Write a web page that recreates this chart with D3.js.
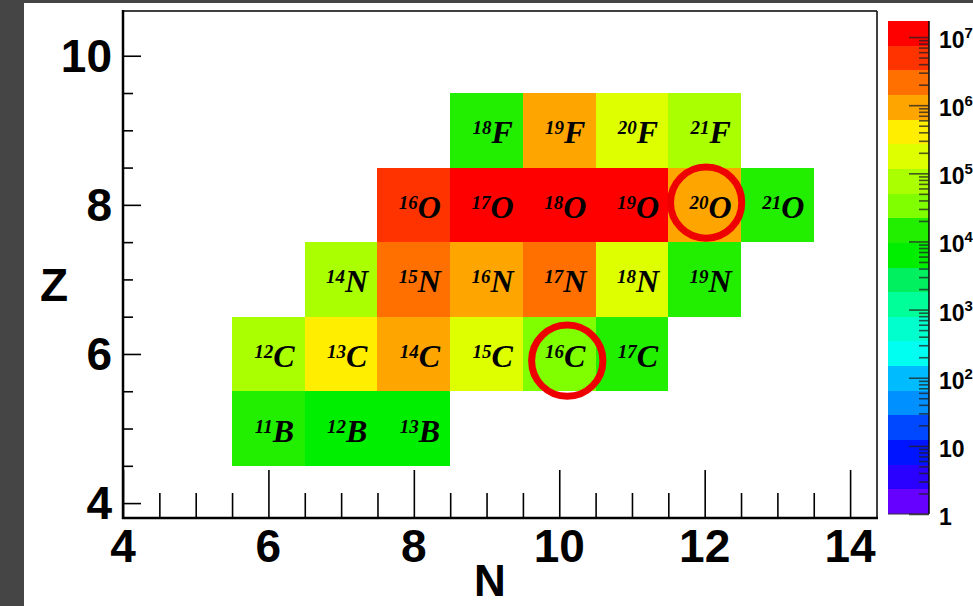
<!DOCTYPE html>
<html>
<head>
<meta charset="utf-8">
<script src="https://cdn.jsdelivr.net/npm/d3@7"></script>
<style>
  html, body { margin: 0; padding: 0; background: #454545; }
  svg { display: block; }
</style>
</head>
<body>
<svg id="chart" width="973" height="606"></svg>
<script>
// ---------------- data ----------------
const elements = ["B", "C", "N", "O", "F"];
const elementZ = [5, 6, 7, 8, 9];
// isotopes: mass number, neutron number N, proton number Z, yield value
const isoMass  = [11, 12, 13,   12, 13, 14, 15, 16, 17,   14, 15, 16, 17, 18, 19,   16, 17, 18, 19, 20, 21,   18, 19, 20, 21];
const isoElem  = ["B","B","B",  "C","C","C","C","C","C",  "N","N","N","N","N","N",  "O","O","O","O","O","O",  "F","F","F","F"];
const isoN     = [6, 7, 8,      6, 7, 8, 9, 10, 11,       7, 8, 9, 10, 11, 12,      8, 9, 10, 11, 12, 13,     9, 10, 11, 12];
const isoZ     = [5, 5, 5,      6, 6, 6, 6, 6, 6,         7, 7, 7, 7, 7, 7,         8, 8, 8, 8, 8, 8,         9, 9, 9, 9];
const isoValue = [1.2e4, 7e3, 6e3,
                  7e4, 4e5, 8e5, 1.7e5, 4.5e4, 1.3e4,
                  7e4, 2.5e6, 1.1e6, 2.2e6, 2e5, 1.5e4,
                  5e6, 1.2e7, 1.4e7, 1.0e7, 1e6, 1.4e4,
                  1.5e4, 9e5, 1.8e5, 8e4];
// highlighted isotopes (20O and 16C)
const highlightN = [12.02, 10.11];
const highlightZ = [8.03, 5.91];

const xTicks = [4, 6, 8, 10, 12, 14];
const yTicks = [4, 6, 8, 10];
const cbExponents = [0, 1, 2, 3, 4, 5, 6, 7];
const cbLabels = ["1", "10", "10", "10", "10", "10", "10", "10"];
const cbSup    = ["", "", "2", "3", "4", "5", "6", "7"];
const paletteColors = ["#6600ff","#2a00ff","#0014ff","#0048ff","#0090ff","#00bcff","#00fff0","#00ffcc","#00ff99","#00f060",
                       "#00ee00","#22ee00","#80ff00","#aaff00","#ddff00","#ffee00","#ffa500","#ff7000","#ff3300","#ff0000"];
const zMin = 1, zMax = 1.72e7;

// ---------------- drawing ----------------
const svg = d3.select("#chart");
svg.append("rect").attr("x", 24).attr("y", 3).attr("width", 949).attr("height", 603).attr("fill", "#ffffff");

const x = d3.scaleLinear().domain([4, 14.37]).range([123, 877]);
const y = d3.scaleLinear().domain([3.8, 10.6]).range([518, 11]);

const logMax = Math.log10(zMax);
const nb = paletteColors.length;
const thresholds = d3.range(1, nb).map(k => Math.pow(10, k * logMax / nb));
const color = d3.scaleThreshold().domain(thresholds).range(paletteColors);

const cells = isoMass.map((m, i) => ({m, el: isoElem[i], N: isoN[i], Z: isoZ[i], v: isoValue[i]}));

// cells
svg.append("g").selectAll("rect").data(cells).join("rect")
  .attr("x", d => x(d.N - 0.5))
  .attr("y", d => y(d.Z + 0.5))
  .attr("width", d => x(d.N + 0.5) - x(d.N - 0.5))
  .attr("height", d => y(d.Z - 0.5) - y(d.Z + 0.5))
  .attr("fill", d => color(d.v))
  .attr("shape-rendering", "crispEdges");

// labels
const lab = svg.append("g").selectAll("text").data(cells).join("text")
  .attr("x", d => x(d.N) + 6)
  .attr("y", d => y(d.Z) + 13)
  .attr("text-anchor", "middle")
  .attr("font-family", "'Liberation Serif', 'DejaVu Serif', serif")
  .attr("font-weight", "bold")
  .attr("font-style", "italic")
  .attr("fill", "#000");
lab.append("tspan").attr("font-size", 19).attr("dy", -9).text(d => d.m);
lab.append("tspan").attr("font-size", 32).attr("dy", 9).text(d => d.el);

// highlight circles
svg.append("g").selectAll("circle").data(highlightN.map((n, i) => ({N: n, Z: highlightZ[i]}))).join("circle")
  .attr("cx", d => x(d.N))
  .attr("cy", d => y(d.Z))
  .attr("r", (x(1) - x(0)) * 0.49)
  .attr("fill", "none")
  .attr("stroke", "#ee0000")
  .attr("stroke-width", 7);

// frame
const fr = svg.append("g");
fr.append("line").attr("x1", 123).attr("x2", 877).attr("y1", 11).attr("y2", 11).attr("stroke", "#000").attr("stroke-width", 1.5);
fr.append("line").attr("x1", 877).attr("x2", 877).attr("y1", 11).attr("y2", 518).attr("stroke", "#000").attr("stroke-width", 1.5);

// x axis
const xMinor = d3.range(4, 14.4, 0.5).filter(v => v % 2 !== 0);
const xAxisMajor = d3.axisTop(x).tickValues(xTicks).tickSize(48).tickFormat("");
const xAxisMinor = d3.axisTop(x).tickValues(xMinor).tickSize(25).tickFormat("");
const gx1 = svg.append("g").attr("transform", "translate(0,518)").call(xAxisMajor);
const gx2 = svg.append("g").attr("transform", "translate(0,518)").call(xAxisMinor);
[gx1, gx2].forEach(g => {
  g.select(".domain").remove();
  g.selectAll(".tick line").attr("stroke", "#000").attr("stroke-width", 1.6);
});
svg.append("line").attr("x1", 122).attr("x2", 878).attr("y1", 518).attr("y2", 518).attr("stroke", "#000").attr("stroke-width", 2.5);
svg.append("g").selectAll("text").data(xTicks).join("text")
  .attr("x", d => x(d))
  .attr("y", 562)
  .attr("text-anchor", "middle")
  .attr("font-family", "'Liberation Sans', Arial, sans-serif")
  .attr("font-weight", "bold")
  .attr("font-size", 46)
  .text(d => d);

// y axis
const yMinor = d3.range(4, 10.01, 0.5).filter(v => v % 2 !== 0);
const yAxisMajor = d3.axisRight(y).tickValues(yTicks).tickSize(18).tickFormat("");
const yAxisMinor = d3.axisRight(y).tickValues(yMinor).tickSize(10).tickFormat("");
const gy1 = svg.append("g").attr("transform", "translate(123,0)").call(yAxisMajor);
const gy2 = svg.append("g").attr("transform", "translate(123,0)").call(yAxisMinor);
[gy1, gy2].forEach(g => {
  g.select(".domain").remove();
  g.selectAll(".tick line").attr("stroke", "#000").attr("stroke-width", 1.6);
});
svg.append("line").attr("x1", 123).attr("x2", 123).attr("y1", 10).attr("y2", 519).attr("stroke", "#000").attr("stroke-width", 2.5);
svg.append("g").selectAll("text").data(yTicks).join("text")
  .attr("x", 112)
  .attr("y", d => y(d) + 16)
  .attr("text-anchor", "end")
  .attr("font-family", "'Liberation Sans', Arial, sans-serif")
  .attr("font-weight", "bold")
  .attr("font-size", 46)
  .text(d => d);

// axis titles
svg.append("text").attr("x", 54).attr("y", 301).attr("text-anchor", "middle")
  .attr("font-family", "'Liberation Sans', Arial, sans-serif").attr("font-weight", "bold").attr("font-size", 46).text("Z");
svg.append("text").attr("x", 490).attr("y", 596).attr("text-anchor", "middle")
  .attr("font-family", "'Liberation Sans', Arial, sans-serif").attr("font-weight", "bold").attr("font-size", 44).text("N");

// colour bar
const cb = d3.scaleLog().domain([zMin, zMax]).range([514, 21]);
const cbX0 = 888, cbX1 = 929;
const bandEdges = [zMin].concat(thresholds).concat([zMax]);
svg.append("g").selectAll("rect").data(paletteColors).join("rect")
  .attr("x", cbX0)
  .attr("width", cbX1 - cbX0)
  .attr("y", (c, i) => cb(bandEdges[i + 1]))
  .attr("height", (c, i) => cb(bandEdges[i]) - cb(bandEdges[i + 1]))
  .attr("fill", c => c)
  .attr("shape-rendering", "crispEdges");
svg.append("line").attr("x1", cbX1).attr("x2", cbX1).attr("y1", 21).attr("y2", 514).attr("stroke", "#000").attr("stroke-width", 1.5);
svg.append("line").attr("x1", cbX0).attr("x2", cbX1).attr("y1", 514).attr("y2", 514).attr("stroke", "#333").attr("stroke-width", 1);
const cbMinor = [];
cbExponents.forEach(e => { for (let m = 2; m <= 9; m++) { const v = m * Math.pow(10, e); if (v < zMax) cbMinor.push(v); } });
const cbAxisMajor = d3.axisLeft(cb).tickValues(cbExponents.map(e => Math.pow(10, e))).tickSize(20).tickFormat("");
const cbAxisMinor = d3.axisLeft(cb).tickValues(cbMinor).tickSize(10).tickFormat("");
[cbAxisMajor, cbAxisMinor].forEach(a => {
  const g = svg.append("g").attr("transform", `translate(${cbX1},0)`).call(a);
  g.select(".domain").remove();
  g.selectAll(".tick line").attr("stroke", "#222").attr("stroke-opacity", 0.75).attr("stroke-width", 1.6);
});
const cbl = svg.append("g").selectAll("text").data(cbExponents).join("text")
  .attr("x", 939)
  .attr("y", e => cb(Math.pow(10, e)) + 11)
  .attr("font-family", "'Liberation Sans', Arial, sans-serif")
  .attr("font-weight", "bold")
  .attr("font-size", 23);
cbl.append("tspan").text((e, i) => cbLabels[i]);
cbl.append("tspan").attr("font-size", 15).attr("dy", -10).text((e, i) => cbSup[i]);
</script>
</body>
</html>
